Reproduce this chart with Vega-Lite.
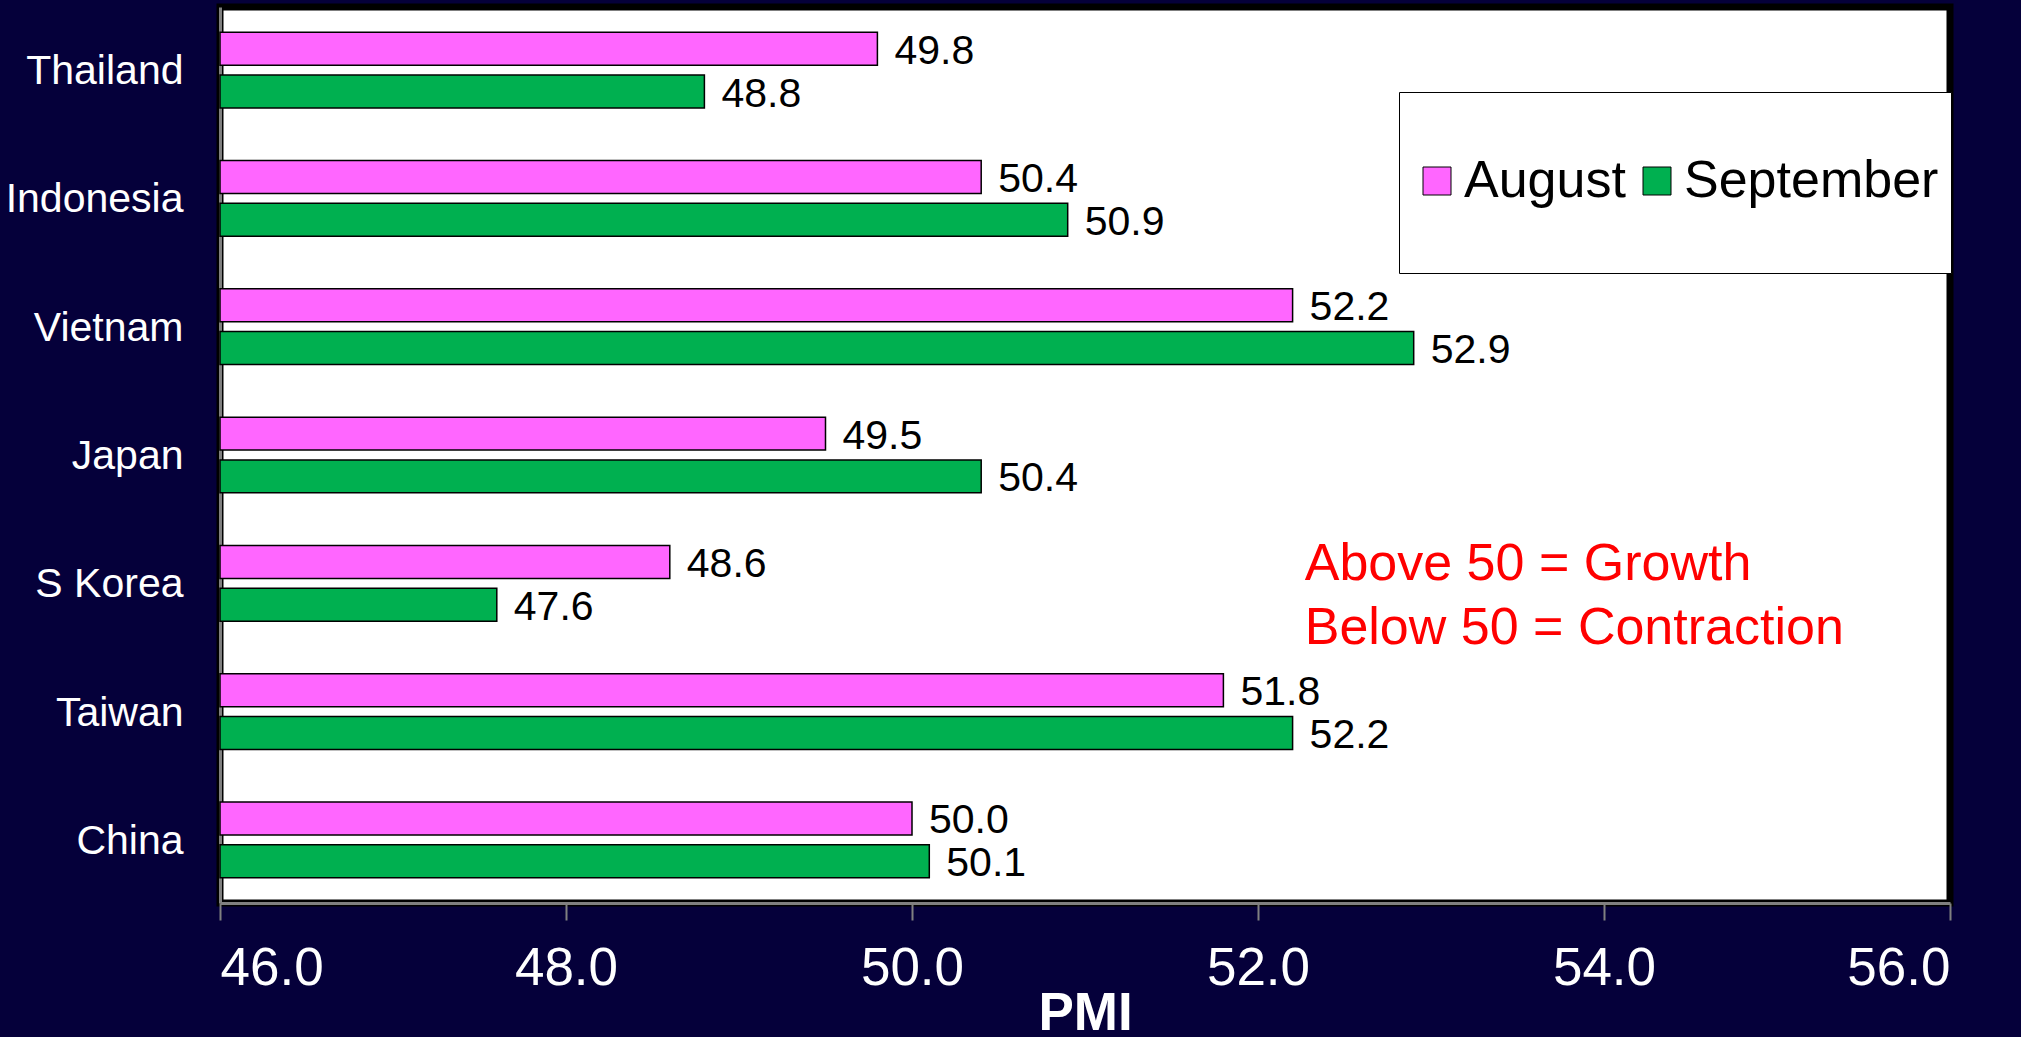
{
  "$schema": "https://vega.github.io/schema/vega-lite/v6.json",
  "width": 1730,
  "height": 896,
  "autosize": {"type": "none"},
  "padding": {"left": 220, "top": 7, "right": 71, "bottom": 134},
  "background": "#05003A",
  "config": {
    "font": "Liberation Sans",
    "view": {"fill": "white", "stroke": "black", "strokeWidth": 7}
  },
  "layer": [
    {
      "data": {
        "values": [
          {"country": "Thailand", "series": "August", "PMI": 49.8},
          {"country": "Thailand", "series": "September", "PMI": 48.8},
          {"country": "Indonesia", "series": "August", "PMI": 50.4},
          {"country": "Indonesia", "series": "September", "PMI": 50.9},
          {"country": "Vietnam", "series": "August", "PMI": 52.2},
          {"country": "Vietnam", "series": "September", "PMI": 52.9},
          {"country": "Japan", "series": "August", "PMI": 49.5},
          {"country": "Japan", "series": "September", "PMI": 50.4},
          {"country": "S Korea", "series": "August", "PMI": 48.6},
          {"country": "S Korea", "series": "September", "PMI": 47.6},
          {"country": "Taiwan", "series": "August", "PMI": 51.8},
          {"country": "Taiwan", "series": "September", "PMI": 52.2},
          {"country": "China", "series": "August", "PMI": 50.0},
          {"country": "China", "series": "September", "PMI": 50.1}
        ]
      },
      "encoding": {
        "y": {
          "field": "country",
          "type": "nominal",
          "sort": ["Thailand", "Indonesia", "Vietnam", "Japan", "S Korea", "Taiwan", "China"],
          "scale": {"paddingInner": 0.41, "paddingOuter": 0.197},
          "axis": {
            "title": null,
            "ticks": false,
            "labelFontSize": 41,
            "labelColor": "white",
            "labelPadding": 37,
            "labelLimit": 0,
            "labelOffset": 2,
            "domainColor": "#808080",
            "domainWidth": 3
          }
        },
        "yOffset": {
          "field": "series",
          "type": "nominal",
          "sort": ["August", "September"],
          "scale": {"paddingInner": 0.23}
        },
        "x": {
          "field": "PMI",
          "type": "quantitative",
          "scale": {"domain": [46, 56], "nice": false, "zero": false},
          "axis": {
            "values": [46, 48, 50, 52, 54, 56],
            "format": ".1f",
            "grid": false,
            "domainColor": "#808080",
            "domainWidth": 3,
            "tickColor": "#808080",
            "tickWidth": 2,
            "tickSize": 17,
            "labelFontSize": 53,
            "labelColor": "white",
            "labelPadding": 22,
            "title": "PMI",
            "titleFontSize": 53,
            "titleFontWeight": "bold",
            "titleColor": "white",
            "titleY": 126,
            "titleBaseline": "alphabetic"
          }
        }
      },
      "layer": [
        {
          "mark": {"type": "bar", "stroke": "black", "strokeWidth": 1.5},
          "encoding": {
            "x2": {"datum": 46},
            "color": {
              "field": "series",
              "type": "nominal",
              "scale": {"domain": ["August", "September"], "range": ["#FF66FF", "#00B050"]},
              "legend": {
                "orient": "none",
                "legendX": 1179,
                "legendY": 85,
                "direction": "horizontal",
                "title": " ",
                "titleFontSize": 40,
                "titlePadding": 11,
                "titleColor": "white",
                "symbolType": "square",
                "symbolSize": 784,
                "symbolStrokeColor": "black",
                "symbolStrokeWidth": 1,
                "symbolOpacity": 1,
                "labelFontSize": 52,
                "labelColor": "black",
                "labelFont": "Liberation Sans",
                "labelOffset": 1,
                "labelLimit": 0,
                "labelExpr": "[datum.label, '']",
                "columnPadding": 5,
                "padding": 12,
                "fillColor": "white",
                "strokeColor": "black"
              }
            }
          }
        },
        {
          "mark": {"type": "text", "align": "left", "baseline": "middle", "dx": 17, "dy": 3, "fontSize": 41, "color": "black"},
          "encoding": {
            "text": {"field": "PMI", "type": "quantitative", "format": ".1f"}
          }
        }
      ]
    },
    {
      "data": {"values": [{"note": "annotation"}]},
      "mark": {"type": "text", "align": "left", "baseline": "middle", "fontSize": 52, "lineHeight": 64, "dy": -19, "color": "#FF0000"},
      "encoding": {
        "x": {"datum": 52.27, "type": "quantitative"},
        "y": {"datum": "S Korea", "type": "nominal"},
        "text": {"value": ["Above 50 = Growth", "Below 50 = Contraction"]}
      }
    }
  ]
}
